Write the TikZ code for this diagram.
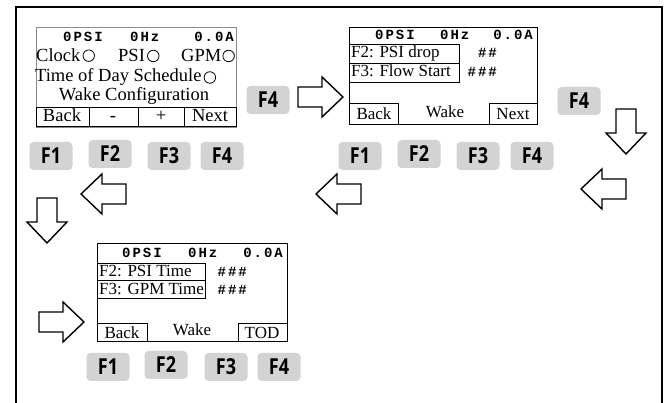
\documentclass[tikz,border=0pt]{standalone}
\usepackage{fontspec}
\setmainfont{Liberation Serif}
\newfontfamily\lcdfont{Liberation Mono}[LetterSpace=14]
\newfontfamily\keyfont{Open Sans}[FakeStretch=0.82,Numbers=Lining]
\usetikzlibrary{positioning}
\definecolor{KeyGray}{HTML}{D3D3D3}
\definecolor{LcdEdge}{HTML}{8A8A8A}
\tikzset{pics/blockarrow/.style={code={
  \draw[line width=1.4pt,fill=white] (-24,-10)--(0,-10)--(0,-20)--(21,0)--(0,20)--(0,10)--(-24,10)--cycle;}}}

\begin{document}
\begin{tikzpicture}[x=1pt,y=-1pt,
  lcd/.style={font=\lcdfont\bfseries\fontsize{14}{14}\selectfont,inner sep=0pt},
  txt/.style={font=\fontsize{17}{17}\selectfont,inner sep=0pt},
  big/.style={font=\fontsize{18.5}{18.5}\selectfont,inner sep=0pt},
  radio/.style={circle,draw,line width=0.8pt,minimum size=11.5pt,inner sep=0pt},
  fkey/.style={fill=KeyGray,rounded corners=4pt,minimum width=43pt,minimum height=28pt,
    inner sep=0pt,font=\keyfont\bfseries\fontsize{22}{22}\selectfont},
  cell/.style={draw,line width=0.9pt}]
\useasboundingbox (0,0) rectangle (667,403);
\draw[line width=1.3pt] (16,403)--(16,7)--(662,7)--(662,403);
% main menu screen
\draw[LcdEdge,line width=0.8pt] (36,27) rectangle (236,127);
\draw[cell] (36,107) rectangle (236,126) (89,107)--(89,126) (138,107)--(138,126) (184,107)--(184,126);
\node[lcd,anchor=base west] (aPsi) at (63,42) {0PSI};
\node[lcd,anchor=base west] (aHz) at (130,42) {0Hz};
\node[lcd,anchor=base east] (aAmp) at (234,42) {0.0A};
\node[big,anchor=base west] (clock) at (36,62) {Clock};
\node[radio,right=2pt of clock] (rClock) {};
\node[big,anchor=base west] (psi) at (118,62) {PSI};
\node[radio,right=2pt of psi] (rPsi) {};
\node[big,anchor=base west] (gpm) at (181,62) {GPM};
\node[radio,right=1pt of gpm] (rGpm) {};
\node[big,anchor=base west] (tod) at (35,82) {Time of Day Schedule};
\node[radio,right=2pt of tod] (rTod) {};
\node[big,anchor=base] (wakeCfg) at (134,101) {Wake Configuration};
\node[big,anchor=base] (aBack) at (62,122) {Back};
\node[big,anchor=base] (aMinus) at (113,122) {-};
\node[big,anchor=base] (aPlus) at (161,122) {+};
\node[big,anchor=base] (aNext) at (210,122) {Next};
\node[fkey] (aF1) at (51,156) {F1};
\node[fkey] (aF2) at (110,154) {F2};
\node[fkey] (aF3) at (169,156) {F3};
\node[fkey] (aF4) at (222,156) {F4};
\node[fkey] (goB) at (268,100) {F4};
% wake screen, page 1
\draw[cell] (349,27) rectangle (537,124);
\draw[cell] (349,44) rectangle (459,63) (349,63) rectangle (459,82);
\draw[cell] (349,103) rectangle (398,124) (489,103) rectangle (537,124);
\node[lcd,anchor=base west] (bPsi) at (375,40) {0PSI};
\node[lcd,anchor=base west] (bHz) at (440,40) {0Hz};
\node[lcd,anchor=base east] (bAmp) at (533,40) {0.0A};
\node[txt,anchor=base west] (psiDrop) at (351,58) {F2: PSI drop};
\node[txt,anchor=base west] (flowStart) at (351,77) {F3: Flow Start};
\node[lcd,anchor=base east] (dropVal) at (497,58) {\#\#};
\node[lcd,anchor=base east] (flowVal) at (497,77) {\#\#\#};
\node[txt,anchor=base] (bBack) at (374,120) {Back};
\node[txt,anchor=base] (bWake) at (445,118) {Wake};
\node[txt,anchor=base] (bNext) at (513,120) {Next};
\node[fkey] (bF1) at (360,156) {F1};
\node[fkey] (bF2) at (419,154) {F2};
\node[fkey] (bF3) at (478,156) {F3};
\node[fkey] (bF4) at (532,156) {F4};
\node[fkey] (goC) at (579,101) {F4};
% wake screen, page 2
\draw[cell] (97,243) rectangle (287,341);
\draw[cell] (97,263) rectangle (205,280) (97,280) rectangle (205,298);
\draw[cell] (97,323) rectangle (147,341) (238,323) rectangle (287,341);
\node[lcd,anchor=base west] (cPsi) at (122,258) {0PSI};
\node[lcd,anchor=base west] (cHz) at (188,258) {0Hz};
\node[lcd,anchor=base east] (cAmp) at (283,258) {0.0A};
\node[txt,anchor=base west] (psiTime) at (99,277) {F2: PSI Time};
\node[txt,anchor=base west] (gpmTime) at (99,295) {F3: GPM Time};
\node[lcd,anchor=base east] (psiVal) at (247,277) {\#\#\#};
\node[lcd,anchor=base east] (gpmVal) at (247,295) {\#\#\#};
\node[txt,anchor=base] (cBack) at (122,339) {Back};
\node[txt,anchor=base] (cWake) at (192,336) {Wake};
\node[txt,anchor=base] (cTod) at (262,339) {TOD};
\node[fkey] (cF1) at (108,367) {F1};
\node[fkey] (cF2) at (166,365) {F2};
\node[fkey] (cF3) at (226,367) {F3};
\node[fkey] (cF4) at (279,367) {F4};
% flow arrows
\pic at (322,97) {blockarrow};
\pic[rotate=-90] at (626,133) {blockarrow};
\pic[rotate=180] at (602,189) {blockarrow};
\pic[rotate=180] at (337,194) {blockarrow};
\pic[rotate=180] at (102,194) {blockarrow};
\pic[rotate=-90] at (47,222) {blockarrow};
\pic at (63,322) {blockarrow};
\end{tikzpicture}
\end{document}
